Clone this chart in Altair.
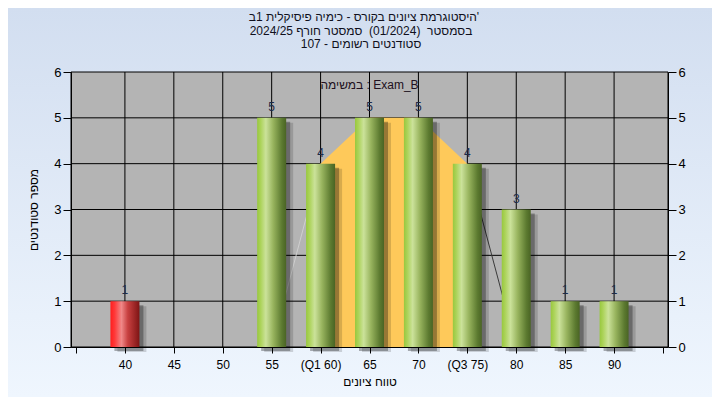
import altair as alt
import pandas as pd

# ---- data ----
grades = [40, 45, 50, 55, 60, 65, 70, 75, 80, 85, 90]
counts = [1, 0, 0, 5, 4, 5, 5, 4, 3, 1, 1]
tick_labels = ["40", "45", "50", "55", "(Q1 60)", "65", "70", "(Q3 75)", "80", "85", "90"]
q1_grade = 60
q3_grade = 75
pass_grade = 55
y_ticks = [0, 1, 2, 3, 4, 5, 6]
x_domain = [35, 95]

RLM = "\u200f"
title_lines = [
    RLM + "'היסטוגרמת ציונים בקורס - כימיה פיסיקלית 1ב",
    "בסמסטר \u00a0(01/2024) \u00a0סמסטר חורף 2024/25",
    "סטודנטים רשומים - 107",
]
x_title = "טווח ציונים"
y_title = "מספר סטודנטים"
note_text = "במשימה : Exam_B"

# ---- layout ----
W, H = 597, 275
PL, PT, PR, PB = 63, 64, 44, 50
FONT = "Liberation Sans, DejaVu Sans, sans-serif"

df = pd.DataFrame({"grade": grades, "count": counts, "label": tick_labels})
bars = df[df["count"] > 0]
green = bars[bars["grade"] >= pass_grade]
red = bars[bars["grade"] < pass_grade]
iqr = df[(df["grade"] >= q1_grade) & (df["grade"] <= q3_grade)]
c_q1 = int(df.loc[df["grade"] == q1_grade, "count"].iloc[0])
c_q3 = int(df.loc[df["grade"] == q3_grade, "count"].iloc[0])
left_seg = pd.DataFrame({"grade": [q1_grade - 5, q1_grade], "count": [0, c_q1]})
right_seg = pd.DataFrame({"grade": [q3_grade, q3_grade + 5], "count": [c_q3, 0]})
hgrid = pd.DataFrame({"v": y_ticks[1:-1]})
one = pd.DataFrame({"a": [0]})

xs = alt.Scale(domain=x_domain, nice=False, zero=False)
ys = alt.Scale(domain=[y_ticks[0], y_ticks[-1]], nice=False)

def X(axis=None):
    return alt.X("grade:Q", scale=xs, axis=axis)

def Y(axis=None):
    return alt.Y("count:Q", scale=ys, axis=axis)

def grad(stops, vertical=False):
    return alt.LinearGradient(
        gradient="linear",
        stops=[alt.GradientStop(color=c, offset=o) for o, c in stops],
        x1=0, y1=0, x2=0 if vertical else 1, y2=1 if vertical else 0,
    )

bg_fill = grad([(0, "#d2def0"), (1, "#eff6fe")], vertical=True)
green_fill = grad([(0, "#98c83e"), (0.12, "#acd35a"), (0.3, "#cbe29a"),
                   (0.55, "#98b45e"), (0.85, "#5c7a30"), (1, "#4a6424")])
red_fill = grad([(0, "#ff1e1e"), (0.15, "#ff3a3a"), (0.38, "#f08888"),
                 (0.6, "#c84040"), (1, "#7e1414")])

x_vals = [x_domain[0]] + grades + [x_domain[1]]
expr = "''"
for g, lab in zip(reversed(grades), reversed(tick_labels)):
    expr = f"datum.value == {g} ? '{lab}' : ({expr})"

x_axis = alt.Axis(values=x_vals, labelExpr=expr, grid=False, zindex=2,
                  domainColor="black", tickColor="black", tickSize=6,
                  labelColor="black", labelFontSize=12, labelFont=FONT,
                  labelPadding=6, labelOverlap=False, labelFlush=False,
                  title=x_title, titleFont=FONT, titleFontSize=12,
                  titleFontWeight="normal", titleColor="black",
                  titleY=34, titleBaseline="middle")
y_left = alt.Axis(values=y_ticks, grid=False, zindex=2, domainColor="black",
                  tickColor="black", tickSize=8, labelColor="black",
                  labelFontSize=13, labelFont=FONT, labelPadding=2,
                  title=y_title, titleFont=FONT, titleFontSize=12,
                  titleFontWeight="normal", titleColor="black",
                  titleX=-38, titleY=H / 2, titleBaseline="middle")
y_right = alt.Axis(values=y_ticks, orient="right", grid=False, zindex=2,
                   domainColor="black", tickColor="black", tickSize=8,
                   labelColor="black", labelFontSize=13, labelFont=FONT,
                   labelPadding=2, title=None)

bg = alt.Chart(one).mark_rect(fill=bg_fill).encode(
    x=alt.value(-PL), x2=alt.value(W + PR), y=alt.value(-PT), y2=alt.value(H + PB))
plot_bg = alt.Chart(one).mark_rect(fill="#b4b4b4", stroke="black", strokeWidth=1).encode(
    x=alt.value(0), x2=alt.value(W), y=alt.value(0), y2=alt.value(H))
vgrid_l = alt.Chart(df).mark_rule(color="black", strokeWidth=1).encode(x=X(x_axis))
hgrid_l = alt.Chart(hgrid).mark_rule(color="black", strokeWidth=1).encode(
    y=alt.Y("v:Q", scale=ys, axis=y_right))
area_l = alt.Chart(iqr).mark_area(color="#fec95a", opacity=1).encode(x=X(), y=Y())
seg_l = alt.Chart(left_seg).mark_line(color="#cfcfcf", strokeWidth=1).encode(x=X(), y=Y())
seg_r = alt.Chart(right_seg).mark_line(color="#3a3a3a", strokeWidth=1).encode(x=X(), y=Y())
shadow1 = alt.Chart(bars).mark_bar(size=29, color="black", opacity=0.15,
                                   xOffset=7, yOffset=5).encode(x=X(), y=Y())
shadow2 = alt.Chart(bars).mark_bar(size=29, color="black", opacity=0.3,
                                   xOffset=4, yOffset=4).encode(x=X(), y=Y())
green_l = alt.Chart(green).mark_bar(size=29, fill=green_fill).encode(x=X(), y=Y())
red_l = alt.Chart(red).mark_bar(size=29, fill=red_fill).encode(x=X(), y=Y())
labels_l = alt.Chart(bars).mark_text(dy=-7, baseline="alphabetic", fontSize=12,
                                     font=FONT, color="#1c2a48").encode(
    x=X(), y=Y(y_left), text="count:Q")
note_l = alt.Chart(one).mark_text(fontSize=12, font=FONT, color="#201020",
                                  baseline="middle", align="center").encode(
    x=alt.value(W / 2), y=alt.value(13), text=alt.value(note_text))

title_x = [293, 290, 290]
title_layers = []
for i, line in enumerate(title_lines):
    title_layers.append(
        alt.Chart(one).mark_text(fontSize=12, font=FONT, color="#10101c",
                                 baseline="middle", align="center").encode(
            x=alt.value(title_x[i]), y=alt.value(-55 + 13.5 * i), text=alt.value(line)))

chart = alt.layer(
    bg, plot_bg, vgrid_l, hgrid_l, area_l, seg_l, seg_r,
    shadow1, shadow2, green_l, red_l, labels_l, note_l, *title_layers,
).resolve_axis(x="independent", y="independent").properties(
    width=W, height=H,
    autosize=alt.AutoSizeParams(type="none"),
    padding={"left": PL, "top": PT, "right": PR, "bottom": PB},
    background="#e0eaf7",
).configure_view(stroke=None)

chart.save("out.html", embed_options={"renderer": "svg", "actions": False})
